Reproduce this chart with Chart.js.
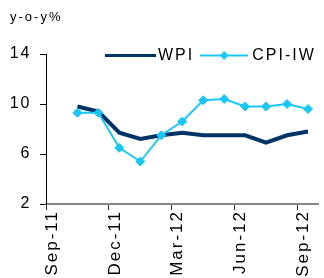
<!DOCTYPE html>
<html><head><meta charset="utf-8">
<script src="https://cdn.jsdelivr.net/npm/chart.js@4/dist/chart.umd.min.js"></script>
<style>html,body{margin:0;padding:0;background:#fff;overflow:hidden;width:324px;height:278px;}canvas{display:block;}</style>
</head><body>
<canvas id="c" width="324" height="300"></canvas>
<script>
// ---- data ----
const axisStart = 'Sep-11';
const months = ['Oct-11','Nov-11','Dec-11','Jan-12','Feb-12','Mar-12','Apr-12','May-12','Jun-12','Jul-12','Aug-12','Sep-12'];
const wpi    = [9.8, 9.4, 7.7, 7.2, 7.5, 7.7, 7.5, 7.5, 7.5, 6.9, 7.5, 7.8];
const cpiIw  = [9.3, 9.3, 6.5, 5.4, 7.5, 8.6, 10.3, 10.4, 9.8, 9.8, 10.0, 9.6];
const tickLabels = ['Sep-11','Dec-11','Mar-12','Jun-12','Sep-12'];
const yTicks = [2, 6, 10, 14];
const seriesNames = ['WPI', 'CPI-IW'];

const allMonths = [axisStart].concat(months);
const NAVY = '#003366', CYAN = '#1AC6F5';
const FAMILY = "'Liberation Sans', Arial, sans-serif";
Chart.defaults.font.family = FAMILY;
Chart.defaults.color = '#000';

function legendImg(w, h, color, lw, diamond) {
  const c = document.createElement('canvas'); c.width = w; c.height = h;
  const g = c.getContext('2d');
  g.strokeStyle = color; g.lineWidth = lw;
  g.beginPath(); g.moveTo(0, h / 2); g.lineTo(w, h / 2); g.stroke();
  if (diamond) {
    g.fillStyle = color; g.beginPath();
    g.moveTo(w / 2 - diamond, h / 2); g.lineTo(w / 2, h / 2 - diamond);
    g.lineTo(w / 2 + diamond, h / 2); g.lineTo(w / 2, h / 2 + diamond);
    g.closePath(); g.fill();
  }
  return c;
}
const legendImgs = [legendImg(51, 3, NAVY, 3, 0), legendImg(48, 10, CYAN, 2, 4.5)];

const SPACING = '2px';
const refLayout = {
  id: 'refLayout',
  afterInit(chart) { chart.ctx.letterSpacing = SPACING; },
  beforeUpdate(chart) { chart.ctx.letterSpacing = SPACING; },
  beforeLayout(chart) {
    const L = chart.legend;
    if (L && !L._fixed) {
      const fit = L.fit;
      L.fit = function () { fit.call(this); this.height = 28.4; };
      L._fixed = true;
    }
  },
  afterLayout(chart) {
    const L = chart.legend;
    const p = L.options.labels.padding;
    const dy = 55.5 - (L.top + p + 8);
    L.top += dy; L.bottom += dy;
    const dx = 110 - (L.right - L.lineWidths[0]);
    L.left += dx; L.right += dx;
  },
  beforeDraw(chart) { chart.ctx.letterSpacing = SPACING; }
};

const pts = (vals) => months.map((m, i) => ({ x: allMonths.indexOf(m) + 0.5, y: vals[i] }));

new Chart(document.getElementById('c'), {
  type: 'line',
  data: {
    datasets: [
      { label: seriesNames[0], data: pts(wpi), borderColor: NAVY, backgroundColor: NAVY,
        borderWidth: 4, pointRadius: 0, tension: 0, order: 1 },
      { label: seriesNames[1], data: pts(cpiIw), borderColor: CYAN, backgroundColor: CYAN,
        borderWidth: 2, pointStyle: 'rectRot', pointRadius: 4.5, pointBorderWidth: 1,
        pointBackgroundColor: CYAN, pointBorderColor: CYAN, tension: 0, order: 0 }
    ]
  },
  options: {
    responsive: false, animation: false,
    layout: { padding: { left: 10, right: 3, top: 0, bottom: 0 } },
    plugins: {
      tooltip: { enabled: false },
      title: { display: true, text: 'y-o-y%', align: 'start', color: '#000',
        font: { size: 13, weight: 'normal' }, padding: { top: 10, bottom: 0 } },
      legend: {
        position: 'top', align: 'end',
        labels: {
          usePointStyle: true, pointStyleWidth: 40, padding: 10, color: '#000',
          font: { size: 16 },
          generateLabels(chart) {
            const items = Chart.defaults.plugins.legend.labels.generateLabels(chart);
            items.sort((a, b) => a.datasetIndex - b.datasetIndex);
            items.forEach(it => { it.pointStyle = legendImgs[it.datasetIndex]; });
            return items;
          }
        }
      }
    },
    scales: {
      x: {
        type: 'linear', min: 0, max: allMonths.length,
        afterBuildTicks: s => { s.ticks = tickLabels.map(l => ({ value: allMonths.indexOf(l) })); },
        afterFit: s => { s.height = 96; },
        ticks: { callback: v => allMonths[v], autoSkip: false, minRotation: 90, maxRotation: 90,
          padding: 0, labelOffset: 6, color: '#000', font: { size: 17 } },
        grid: { drawOnChartArea: false, drawTicks: true, tickLength: 6, color: '#333' },
        border: { color: '#888', width: 2 }
      },
      y: {
        min: 2, max: 14,
        afterBuildTicks: s => { s.ticks = yTicks.map(v => ({ value: v })); },
        afterFit: s => { s.width = 36; },
        ticks: { padding: 8.5, color: '#000', font: { size: 16 } },
        grid: { drawOnChartArea: false, drawTicks: true, tickLength: 6, color: '#000' },
        border: { color: '#000', width: 1 }
      }
    }
  },
  plugins: [refLayout]
});
</script>
</body></html>
